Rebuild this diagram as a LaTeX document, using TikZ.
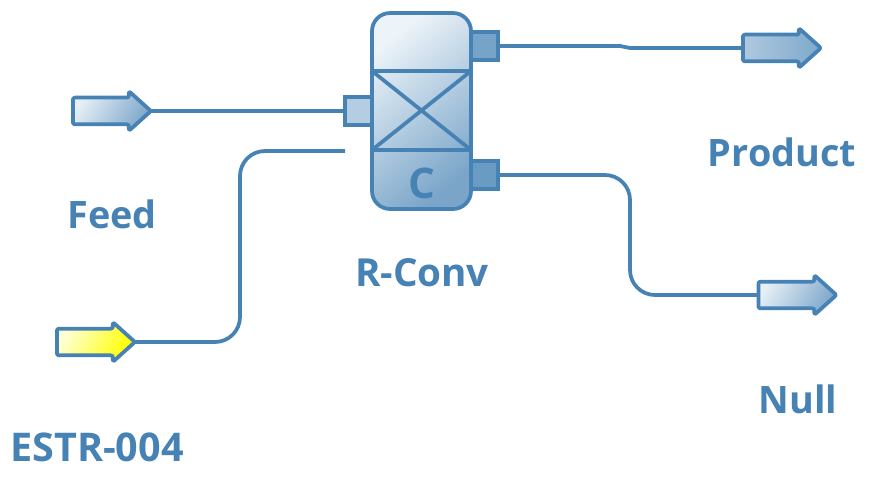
\documentclass[tikz,border=0pt]{standalone}
\usepackage{fontspec}
\setmainfont{Open Sans}
\usetikzlibrary{shapes}
\usetikzlibrary{calc}
\definecolor{flowblue}{HTML}{4682B4}
\definecolor{shadelight}{HTML}{E6EFF6}
\definecolor{shadedark}{HTML}{6A9BC3}
\begin{document}
\begin{tikzpicture}[
        x=0.02cm, y=-0.02cm,
        line/.style={draw=flowblue, line width=0.75mm},
        stream/.style={line, rounded corners=5mm},
        portarrow/.style={
            single arrow, line, line join=round, rounded corners=0.4mm, outer sep=0pt, inner sep=2.3mm,
            minimum height=15.6mm, minimum width=7.4mm,
            single arrow head extend=1.3mm, single arrow tip angle=84,
            top color=shadelight, bottom color=flowblue!70!white, shading angle=60
        },
        yellowarrow/.style={
            portarrow, top color=yellow!15, bottom color=yellow, shading angle=60
        },
        nozzle/.style={
            line, outer sep=0pt, inner sep=0pt, minimum width=5.4mm, minimum height=5.6mm
        },
        label/.style={text=flowblue, font=\bfseries\fontsize{21.5}{26}\selectfont}
    ]

    \useasboundingbox (0,0) rectangle (871,479);

    %=== Reactor ===%
    \node[line, rounded corners=3.6mm, outer sep=0pt, inner sep=0pt,
        minimum width=19.8mm, minimum height=39.2mm,
        top color=shadelight!70!white, bottom color=flowblue!72!white, shading angle=40] (vessel) at (421.5,111) {};
    \coordinate (bedtl) at (372,71);
    \coordinate (bedtr) at (471,71);
    \coordinate (bedbl) at (372,150);
    \coordinate (bedbr) at (471,150);
    \draw[line] (bedtl) -- (bedtr);
    \draw[line] (bedbl) -- (bedbr);
    \draw[line] (bedtl) -- (bedbr);
    \draw[line] (bedbl) -- (bedtr);
    \node[text=flowblue, font=\bfseries\fontsize{24}{28}\selectfont] (vesseltag) at (422,183) {C};

    \node[nozzle, fill=shadelight!60!shadedark] (nozfeed) at (358.5,111) {};
    \node[nozzle, fill=shadedark!90!shadelight] (noztop) at (484.5,46) {};
    \node[nozzle, fill=shadedark] (nozbot) at (484.5,175) {};

    %=== Streams ===%
    \node[portarrow] (feed) at (104.5,111) {};
    \node[yellowarrow] (estr) at (88.5,342) {};
    \node[portarrow, left color=shadedark!45!shadelight, middle color=shadelight!80!shadedark, right color=flowblue!70!white] (product) at (774.5,48) {};
    \node[portarrow] (null) at (790,295) {};

    \coordinate (estrend) at (345,151);

    \draw[line] (feed.tip) -- (nozfeed.west);
    \draw[stream] (estr.tip) -- (240,342) -- (240,151) -- (estrend);
    \draw[line] (noztop.east) -- (620,46) -- (630,48) -- (product.west);
    \draw[stream] (nozbot.east) -- (630,175) -- (630,295) -- (null.west);

    %=== Labels ===%
    \node[label] (feedlabel) at (112,214) {Feed};
    \node[label, font=\bfseries\fontsize{22.5}{26}\selectfont] (estrlabel) at (97,447) {ESTR-004};
    \node[label, font=\bfseries\fontsize{22}{26}\selectfont] (convlabel) at (422,273) {R-Conv};
    \node[label] (productlabel) at (782,152) {Product};
    \node[label] (nulllabel) at (798,399) {Null};

\end{tikzpicture}
\end{document}
